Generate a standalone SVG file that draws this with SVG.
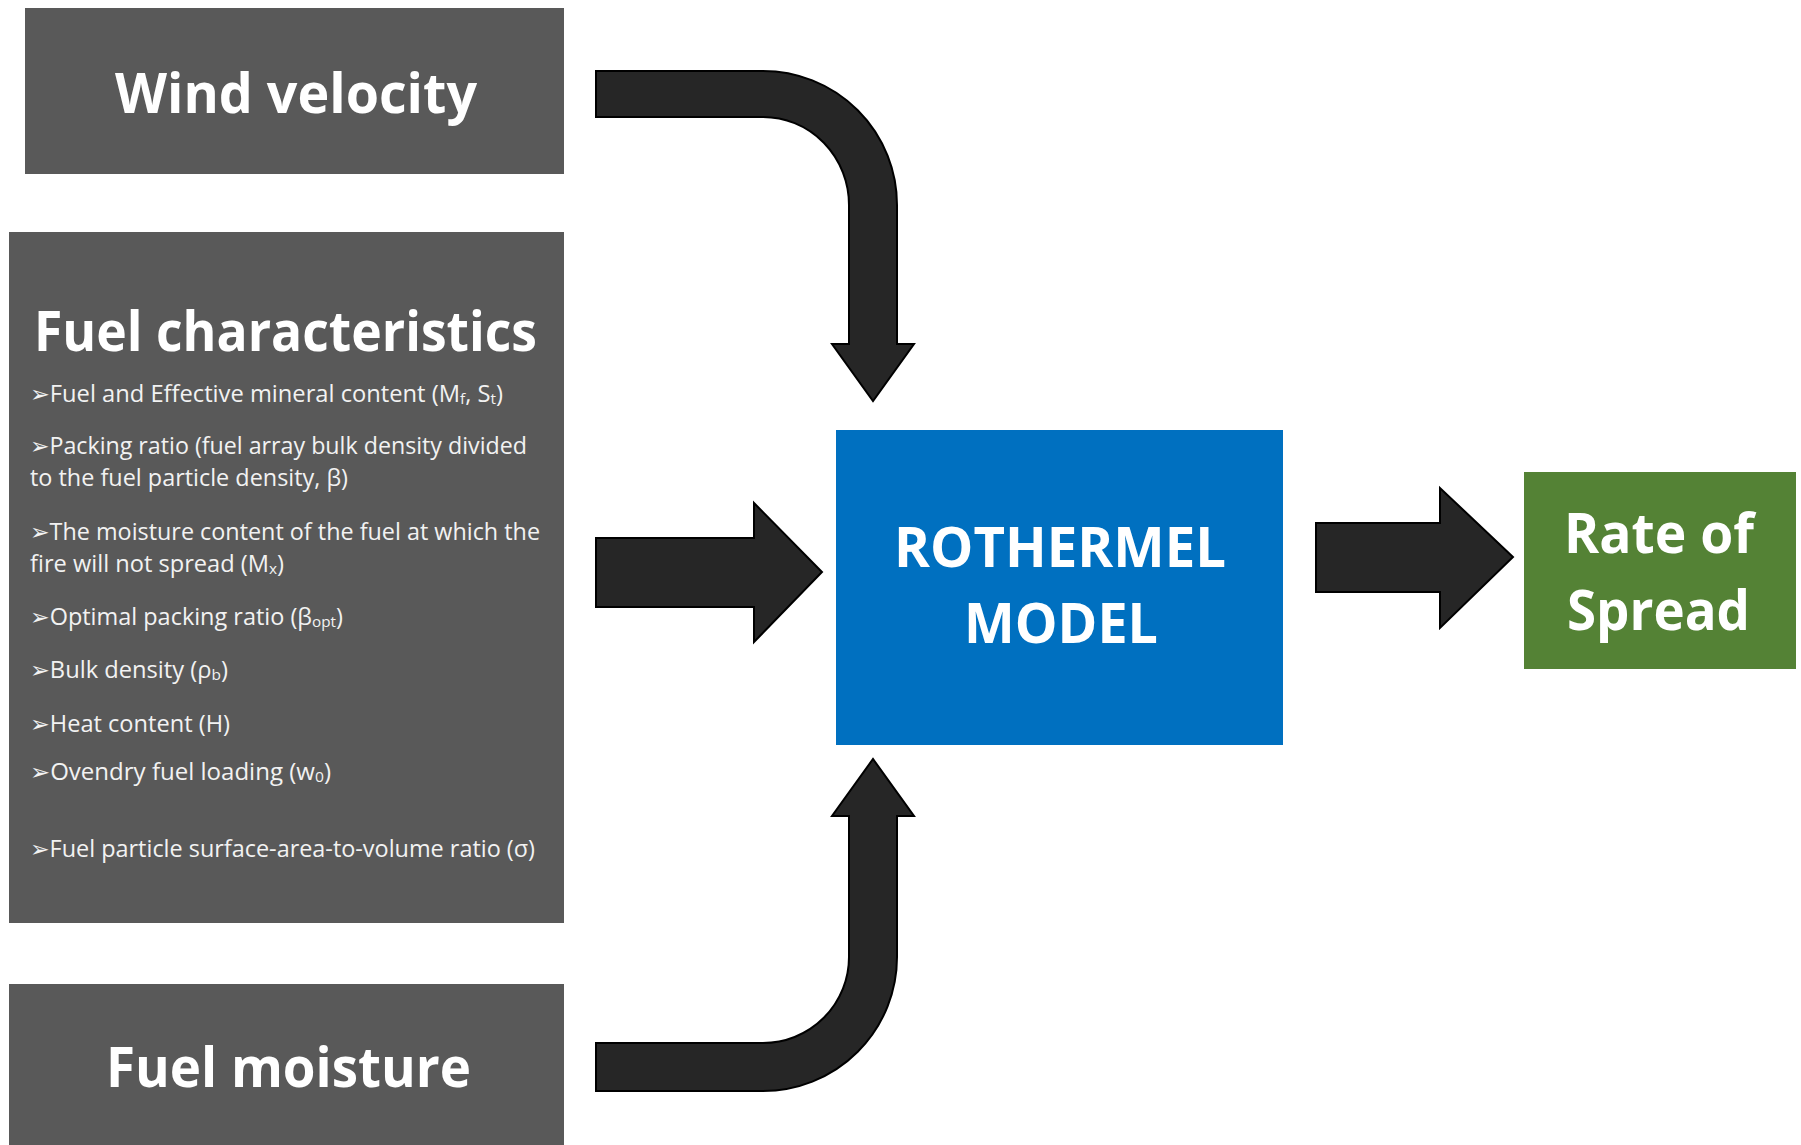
<svg xmlns="http://www.w3.org/2000/svg" width="1801" height="1145" viewBox="0 0 1801 1145">
<style>
.box{fill:#595959}
.title{font-family:"Open Sans","Liberation Sans",sans-serif;font-weight:bold;fill:#fff;font-size:56px}
.body{font-family:"Open Sans","DejaVu Sans","Liberation Sans",sans-serif;fill:#f2f2f2;font-size:23px}
.sub{font-size:15px}
.arrow{fill:#262626;stroke:#000;stroke-width:2;stroke-linejoin:miter}
</style>
<rect width="1801" height="1145" fill="#fff"/>
<g id="connectors">
<path class="arrow" d="M596 71 H763 A134 134 0 0 1 897 205 V344 H914 L873 401 L832 344 H849 V205 A86 88 0 0 0 763 117 H596 Z"/>
<path class="arrow" d="M596 1091 H763 A134 134 0 0 0 897 957 V816 H914 L873 759 L832 816 H849 V957 A86 86 0 0 1 763 1043 H596 Z"/>
<path class="arrow" d="M596 538 H754 V503 L822 572 L754 642 V607 H596 Z"/>
<path class="arrow" d="M1316 523 H1440 V488 L1513 557 L1440 628 V592 H1316 Z"/>
</g>
<g id="wind">
<rect class="box" x="25" y="8" width="539" height="166"/>
<text class="title" x="115" y="113" textLength="362" lengthAdjust="spacingAndGlyphs">Wind velocity</text>
</g>
<g id="fuelchar">
<rect class="box" x="9" y="232" width="555" height="691"/>
<text class="title" x="34" y="351" textLength="503" lengthAdjust="spacingAndGlyphs">Fuel characteristics</text>
<text class="body" x="30" y="402" textLength="473" lengthAdjust="spacingAndGlyphs">➢Fuel and Effective mineral  content  (M<tspan class="sub" dy="2">f</tspan><tspan dy="-2">, S</tspan><tspan class="sub" dy="2">t</tspan><tspan dy="-2">)</tspan></text>
<text class="body" x="30" y="454" textLength="497" lengthAdjust="spacingAndGlyphs">➢Packing ratio  (fuel array  bulk density  divided</text>
<text class="body" x="30" y="486" textLength="318" lengthAdjust="spacingAndGlyphs">to the  fuel particle density,  β)</text>
<text class="body" x="30" y="540" textLength="510" lengthAdjust="spacingAndGlyphs">➢The moisture  content  of the fuel at which the</text>
<text class="body" x="30" y="572" textLength="254" lengthAdjust="spacingAndGlyphs">fire will not spread (M<tspan class="sub" dy="2">x</tspan><tspan dy="-2">)</tspan></text>
<text class="body" x="30" y="625" textLength="313" lengthAdjust="spacingAndGlyphs">➢Optimal packing ratio (β<tspan class="sub" dy="2">opt</tspan><tspan dy="-2">)</tspan></text>
<text class="body" x="30" y="678" textLength="198" lengthAdjust="spacingAndGlyphs">➢Bulk density  (ρ<tspan class="sub" dy="2">b</tspan><tspan dy="-2">)</tspan></text>
<text class="body" x="30" y="732" textLength="200" lengthAdjust="spacingAndGlyphs">➢Heat content  (H)</text>
<text class="body" x="30" y="780" textLength="301" lengthAdjust="spacingAndGlyphs">➢Ovendry fuel loading  (w<tspan class="sub" dy="2">0</tspan><tspan dy="-2">)</tspan></text>
<text class="body" x="30" y="857" textLength="505" lengthAdjust="spacingAndGlyphs">➢Fuel particle  surface-area-to-volume  ratio (σ)</text>
</g>
<g id="moisture">
<rect class="box" x="9" y="984" width="555" height="161"/>
<text class="title" x="106" y="1087" textLength="365" lengthAdjust="spacingAndGlyphs">Fuel moisture</text>
</g>
<g id="rothermel">
<rect x="836" y="430" width="447" height="315" fill="#0070C0"/>
<text class="title" x="894" y="567" textLength="332" lengthAdjust="spacingAndGlyphs">ROTHERMEL</text>
<text class="title" x="964" y="643" textLength="194" lengthAdjust="spacingAndGlyphs">MODEL</text>
</g>
<g id="rate">
<rect x="1524" y="472" width="272" height="197" fill="#548235"/>
<text class="title" x="1564" y="553" textLength="190" lengthAdjust="spacingAndGlyphs">Rate of</text>
<text class="title" x="1567" y="630" textLength="183" lengthAdjust="spacingAndGlyphs">Spread</text>
</g>
</svg>
